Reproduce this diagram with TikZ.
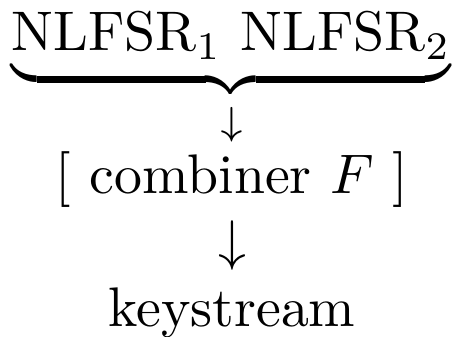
\documentclass[tikz,border=0pt]{standalone}
\usepackage{amsmath}
\begin{document}
\begin{tikzpicture}[x=0.1792pt,y=-0.1792pt,
  lbl/.style={inner sep=0pt,outer sep=0pt,anchor=base}]
\useasboundingbox (0,0) rectangle (452,337);
\node[lbl] (top) at (231,51) {$\underbrace{\mathrm{NLFSR}_1\ \mathrm{NLFSR}_2}$};
\node[lbl,anchor=center] (arr1) at (232,125) {$\scriptstyle\downarrow$};
\node[lbl] (comb) at (232,194) {$[\ \text{combiner } F\ ]$};
\node[lbl,anchor=center] (arr2) at (232,246) {$\downarrow$};
\node[lbl] (ks) at (232,327) {keystream};
\end{tikzpicture}
\end{document}
